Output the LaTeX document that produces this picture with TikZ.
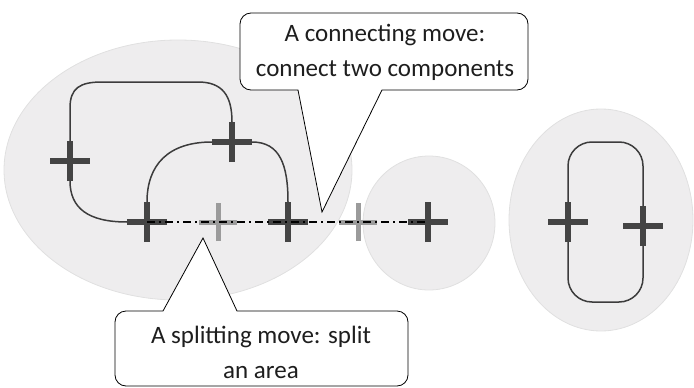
\documentclass[tikz,border=0pt]{standalone}
\usepackage{fontspec}
\setmainfont{Carlito}
\definecolor{areafill}{RGB}{238,237,238}
\definecolor{areaedge}{RGB}{224,224,224}
\definecolor{darkmark}{RGB}{68,68,68}
\definecolor{lightmark}{RGB}{155,155,155}
\definecolor{curvecol}{RGB}{60,60,60}
\definecolor{inkcol}{RGB}{30,30,30}
\tikzset{
  area/.style={fill=areafill, draw=areaedge, line width=0.8pt},
  strand/.style={draw=curvecol, line width=1.5pt},
  darkcross/.style={draw=darkmark, line width=6pt},
  lightcross/.style={draw=lightmark, line width=5pt},
  movepath/.style={draw=black, line width=1.8pt, dash pattern=on 8pt off 4pt on 2pt off 4pt},
  callout/.style={fill=white, draw=black, line width=0.8pt},
  calltext/.style={font=\fontsize{25}{35}\selectfont, align=center, text=inkcol}
}
\newcommand{\crossat}[3]{% style, name, half size
  \draw[#1] ([xshift=-#3pt]#2) -- ([xshift=#3pt]#2)
            ([yshift=-#3pt]#2) -- ([yshift=#3pt]#2);}
\begin{document}
\begin{tikzpicture}[x=1pt, y=-1pt]
\useasboundingbox (0,0) rectangle (694,388);

% shaded areas
\draw[area] (178,170) ellipse [x radius=174, y radius=130];
\draw[area] (429,223) ellipse [x radius=66, y radius=67];
\draw[area] (601,220) ellipse [x radius=92, y radius=111];

% crossing positions
\coordinate (c1) at (70,161);
\coordinate (c2) at (232,142);
\coordinate (c3) at (147,222);
\coordinate (g1) at (218,222);
\coordinate (c4) at (288,222);
\coordinate (g2) at (358,222);
\coordinate (c5) at (428,222);
\coordinate (c6) at (568,222);
\coordinate (c7) at (643,226);

% strands of the left component
\draw[strand] (127,222) .. controls (88,222) and (70,208) .. (70,181);
\draw[strand] (70,141) -- (70,108) .. controls (70,88) and (80,82) .. (102,82)
  -- (198,82) .. controls (222,82) and (232,95) .. (232,122);
\draw[strand] (147,202) .. controls (147,165) and (168,142) .. (212,142);
\draw[strand] (252,142) .. controls (280,142) and (288,165) .. (288,202);

% closed loop on the right
\draw[strand, rounded corners=24pt] (568,142) -- (643,142) -- (643,302) -- (568,302) -- cycle;

% crossings
\crossat{darkcross}{c1}{20}
\crossat{darkcross}{c2}{20}
\crossat{darkcross}{c3}{20}
\crossat{darkcross}{c4}{20}
\crossat{darkcross}{c5}{20}
\crossat{darkcross}{c6}{20}
\crossat{darkcross}{c7}{20}
\crossat{lightcross}{g1}{19}
\crossat{lightcross}{g2}{19}

% the moves
\draw[movepath] (c3) -- (c5);

% callouts
\draw[callout] (298,90) -- (322,212) -- (382,90) [rounded corners=11pt]
  -- (528,90) -- (528,13) -- (240,13) -- (240,90) [sharp corners] -- cycle;
\node[calltext] (connecting) at (385,52) {A connecting move:\\connect two components};

\draw[callout] (163,311) -- (203,238) -- (237,311) [rounded corners=11pt]
  -- (408,311) -- (408,386) -- (115,386) -- (115,311) [sharp corners] -- cycle;
\node[calltext] (splitting) at (261,352) {A splitting move: split\\an area};
\end{tikzpicture}
\end{document}
